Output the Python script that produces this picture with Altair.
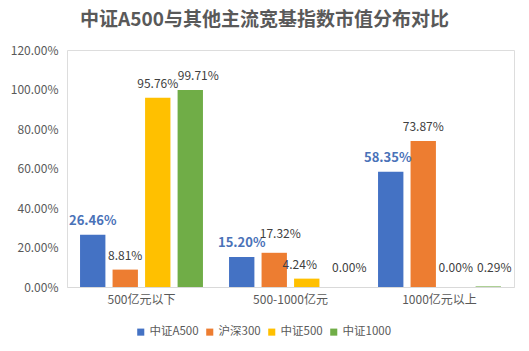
import altair as alt
import pandas as pd

categories = ["500亿元以下", "500-1000亿元", "1000亿元以上"]
series = ["中证A500", "沪深300", "中证500", "中证1000"]
a500 = [26.46, 15.20, 58.35]
hs300 = [8.81, 17.32, 73.87]
zz500 = [95.76, 4.24, 0.00]
zz1000 = [99.71, 0.00, 0.29]
colors = ["#4472C4", "#ED7D31", "#FFC000", "#70AD47"]

rows = []
for s, vals in zip(series, [a500, hs300, zz500, zz1000]):
    for c, v in zip(categories, vals):
        rows.append({"cat": c, "series": s, "value": v / 100})
df = pd.DataFrame(rows)

# label nudges (category, series, dx, dy) to mimic the reference's label placement
nudges = [
    ("500亿元以下", "中证1000", 8, 0),
    ("500-1000亿元", "沪深300", 6, -5),
    ("500-1000亿元", "中证500", -7, 0),
    ("500-1000亿元", "中证1000", 10, -5),
    ("1000亿元以上", "中证500", 0, -5),
    ("1000亿元以上", "中证1000", 6, -4),
    ("1000亿元以上", "中证A500", -3, 0),
]

FONT = "Noto Sans CJK SC"

x = alt.X("cat:N", sort=categories, title=None,
          scale=alt.Scale(paddingInner=0.175, paddingOuter=0.0875),
          axis=alt.Axis(labelAngle=0, ticks=False, domainColor="#D9D9D9",
                        labelColor="#595959", labelFontSize=12, labelPadding=7,
                        labelFont=FONT))
xoff = alt.XOffset("series:N", sort=series,
                   scale=alt.Scale(paddingInner=0.22, paddingOuter=0))
y = alt.Y("value:Q", title=None,
          scale=alt.Scale(domain=[0, 1.2], nice=False),
          axis=alt.Axis(format=".2%", values=[0, 0.2, 0.4, 0.6, 0.8, 1.0, 1.2],
                        grid=False, domain=False, ticks=False, labelPadding=9,
                        labelColor="#595959", labelFontSize=12, labelFont=FONT))

base = alt.Chart(df)

bars = base.mark_bar().encode(
    x=x, xOffset=xoff, y=y,
    color=alt.Color("series:N", sort=series,
                    scale=alt.Scale(domain=series, range=colors),
                    legend=alt.Legend(title=None, orient="none", direction="horizontal",
                                      legendX=68, legendY=276, symbolType="square",
                                      symbolSize=50, labelFontSize=11.5,
                                      labelColor="#595959", labelFont=FONT,
                                      columnPadding=5, labelOffset=3)),
)

enc = dict(x=x, xOffset=xoff, y=y, text=alt.Text("value:Q", format=".2%"))


def is_nudged():
    cond = None
    for c, s, _, _ in nudges:
        e = (alt.datum.cat == c) & (alt.datum.series == s)
        cond = e if cond is None else (cond | e)
    return cond


def label_style(s):
    if s == "中证A500":
        return dict(fontWeight="bold", fontSize=13, color="#4A72B8")
    return dict(fontSize=12, color="#404040")


layers = [bars]
nud = is_nudged()
for s in series:
    layers.append(
        base.transform_filter(alt.datum.series == s)
        .transform_filter(~nud)
        .mark_text(baseline="alphabetic", dy=-10, font=FONT, **label_style(s))
        .encode(**enc)
    )
for c, s, dx, dy in nudges:
    layers.append(
        base.transform_filter((alt.datum.cat == c) & (alt.datum.series == s))
        .mark_text(baseline="alphabetic", dx=dx, dy=-10 + dy, font=FONT, **label_style(s))
        .encode(**enc)
    )

chart = alt.layer(*layers).properties(
    width=447, height=237,
    title=alt.TitleParams("中证A500与其他主流宽基指数市值分布对比", fontSize=19,
                          fontWeight="bold", color="#595959", font=FONT,
                          anchor="middle", dx=-26, offset=14),
    autosize=alt.AutoSizeParams(type="none"),
    padding={"left": 67, "top": 50, "right": 15, "bottom": 64},
).configure_view(stroke=None).configure(background="white")

chart.save("out.html", embed_options={"renderer": "svg", "actions": False})
